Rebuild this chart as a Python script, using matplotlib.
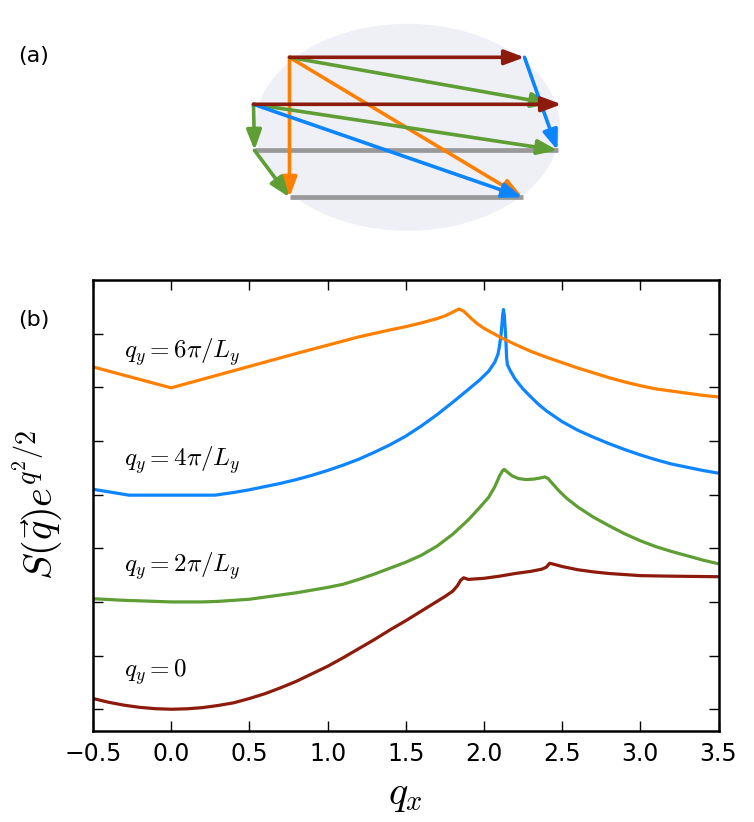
import matplotlib
matplotlib.use("Agg")
import matplotlib.pyplot as plt
from matplotlib.patches import Ellipse

plt.rcParams["mathtext.fontset"] = "cm"
plt.rcParams["font.family"] = ["DejaVu Sans"]

# ---- panel (b) data: S(q) e^{q^2/2} (arbitrary units, offset curves)
qx_0 = [-0.5, -0.4, -0.3, -0.2, -0.1, 0.0, 0.1, 0.2, 0.3, 0.4, 0.5, 0.6, 0.7, 0.8,
        0.9, 1.0, 1.1, 1.2, 1.3, 1.4, 1.5, 1.6, 1.7, 1.75, 1.80, 1.83, 1.85, 1.87,
        1.90, 2.0, 2.1, 2.2, 2.3, 2.37, 2.40, 2.42, 2.45, 2.5, 2.6, 2.7, 2.8, 2.9,
        3.0, 3.2, 3.5]
s_0 = [0.20, 0.13, 0.075, 0.035, 0.01, 0.0, 0.008, 0.03, 0.07, 0.12, 0.20, 0.29,
       0.40, 0.52, 0.66, 0.80, 0.96, 1.13, 1.30, 1.48, 1.65, 1.83, 2.01, 2.10, 2.20,
       2.30, 2.40, 2.45, 2.42, 2.44, 2.48, 2.53, 2.57, 2.61, 2.65, 2.72, 2.70, 2.66,
       2.60, 2.56, 2.53, 2.51, 2.49, 2.48, 2.47]

qx_2 = [-0.5, -0.3, -0.1, 0.0, 0.2, 0.3, 0.4, 0.5, 0.6, 0.7, 0.8, 0.9, 1.0, 1.1,
        1.2, 1.3, 1.4, 1.5, 1.6, 1.7, 1.8, 1.9, 1.97, 2.03, 2.07, 2.10, 2.12, 2.13,
        2.15, 2.18, 2.22, 2.27, 2.32, 2.36, 2.39, 2.41, 2.44, 2.48, 2.53, 2.6, 2.7,
        2.8, 2.9, 3.0, 3.1, 3.2, 3.3, 3.4, 3.5]
s_2 = [2.06, 2.03, 2.01, 2.0, 2.0, 2.01, 2.03, 2.05, 2.09, 2.13, 2.17, 2.22, 2.27,
       2.33, 2.42, 2.52, 2.63, 2.74, 2.87, 3.04, 3.26, 3.53, 3.75, 3.95, 4.15, 4.35,
       4.45, 4.47, 4.42, 4.35, 4.30, 4.28, 4.29, 4.31, 4.33, 4.30, 4.20, 4.07, 3.93,
       3.77, 3.58, 3.42, 3.27, 3.14, 3.03, 2.94, 2.86, 2.78, 2.71]

qx_4 = [-0.5, -0.27, 0.28, 0.4, 0.5, 0.6, 0.7, 0.8, 0.9, 1.0, 1.1, 1.2, 1.3, 1.4,
        1.5, 1.6, 1.7, 1.8, 1.9, 1.97, 2.03, 2.07, 2.09, 2.10, 2.11, 2.12, 2.125,
        2.13, 2.14, 2.145, 2.15, 2.17, 2.2, 2.25, 2.3, 2.35, 2.4, 2.5, 2.6, 2.7, 2.8,
        2.9, 3.0, 3.1, 3.2, 3.3, 3.4, 3.5]
s_4 = [4.10, 3.99, 3.99, 4.04, 4.09, 4.15, 4.21, 4.28, 4.36, 4.45, 4.55, 4.66, 4.79,
       4.93, 5.09, 5.28, 5.49, 5.72, 5.96, 6.13, 6.30, 6.47, 6.62, 6.78, 7.00, 7.35,
       7.45, 7.35, 6.90, 6.55, 6.42, 6.30, 6.15, 5.97, 5.82, 5.68, 5.56, 5.36, 5.20,
       5.07, 4.95, 4.84, 4.74, 4.65, 4.57, 4.51, 4.45, 4.40]

qx_6 = [-0.5, -0.25, 0.0, 0.4, 0.8, 1.2, 1.4, 1.5, 1.6, 1.7, 1.75, 1.80, 1.84, 1.87,
        1.92, 1.96, 2.0, 2.05, 2.1, 2.2, 2.3, 2.4, 2.5, 2.6, 2.7, 2.8, 2.9, 3.0, 3.1,
        3.2, 3.3, 3.4, 3.5]
s_6 = [6.38, 6.185, 5.99, 6.31, 6.63, 6.94, 7.07, 7.13, 7.20, 7.28, 7.33, 7.40, 7.46,
       7.42, 7.28, 7.18, 7.10, 7.02, 6.94, 6.80, 6.67, 6.56, 6.46, 6.36, 6.27, 6.18,
       6.10, 6.03, 5.97, 5.93, 5.89, 5.85, 5.82]

curve_labels = [r"$q_y = 0$", r"$q_y = 2\pi/L_y$", r"$q_y = 4\pi/L_y$", r"$q_y = 6\pi/L_y$"]
label_y = [0.70, 2.66, 4.64, 6.66]
colors = ["#8c1b0c", "#5e9e35", "#0d85ff", "#ff8000"]

# ---- panel (a) data: schematic points (rows of the lattice)
pts = {
    "A1": (-1.18, 0.70), "A2": (1.17, 0.70),
    "B1": (-1.54, 0.23), "B2": (1.54, 0.23), "B2g": (1.44, 0.235),
    "C1": (-1.53, -0.23), "C2": (1.50, -0.23),
    "D1": (-1.18, -0.70), "D2": (1.15, -0.70),
}
grey_rows = [("C1", "C2"), ("D1", "D2")]
# drawn in this order, later ones on top
arrows = [
    ("A1", "D1", "#ff8000"), ("A1", "D2", "#ff8000"),
    ("A1", "B2g", "#5e9e35"), ("B1", "C2", "#5e9e35"),
    ("B1", "C1", "#5e9e35"), ("C1", "D1", "#5e9e35"),
    ("A2", "C2", "#0d85ff"), ("B1", "D2", "#0d85ff"),
    ("A1", "A2", "#8c1b0c"), ("B1", "B2", "#8c1b0c"),
]

fig = plt.figure(figsize=(7.54, 8.22), dpi=100)

# ---- panel (a)
ax_a = fig.add_axes([240 / 754, 1 - 240 / 822, 335 / 754, 225 / 822])
ax_a.set_xlim(-1.675, 1.675)
ax_a.set_ylim(-1.127, 1.123)
ax_a.axis("off")
ax_a.add_patch(Ellipse((0, 0), 3.05, 2.07, facecolor="#eef0f6", edgecolor="none"))
for a, b in grey_rows:
    ax_a.plot([pts[a][0], pts[b][0]], [pts[a][1], pts[b][1]], color="#999999",
              lw=3.4, solid_capstyle="butt", zorder=2)
for i, (a, b, c) in enumerate(arrows):
    ax_a.annotate("", xy=pts[b], xytext=pts[a],
                  arrowprops=dict(arrowstyle="-|>,head_length=1.2,head_width=0.45",
                                  color=c, lw=2.6, shrinkA=0, shrinkB=0),
                  zorder=3 + i * 0.01)

# ---- panel (b)
ax = fig.add_axes([93 / 754, 1 - 730.7 / 822, 625.5 / 754, 450.7 / 822])
for qx, s, c in zip([qx_0, qx_2, qx_4, qx_6], [s_0, s_2, s_4, s_6], colors):
    ax.plot(qx, s, color=c, lw=2.3)
for lab, y in zip(curve_labels, label_y):
    ax.text(-0.3, y, lab, fontsize=18, va="center", ha="left")

ax.set_xlim(-0.5, 3.5)
ax.set_ylim(-0.4, 8.0)
ax.set_xticks([-0.5, 0.0, 0.5, 1.0, 1.5, 2.0, 2.5, 3.0, 3.5])
ax.set_yticks(range(8))
ax.set_yticklabels([])
ax.tick_params(direction="in", top=True, right=True, length=7, width=1,
               labelsize=17, pad=8)
for sp in ax.spines.values():
    sp.set_linewidth(1.8)
ax.set_xlabel(r"$q_x$", fontsize=29)
ax.set_ylabel(r"$S(\vec{q})e^{q^2/2}$", fontsize=29)
ax.xaxis.set_label_coords(0.5, -0.095)
ax.yaxis.set_label_coords(-0.045, 0.5)

fig.text(18 / 754, 1 - 56 / 822, "(a)", fontsize=16, va="center", ha="left")
fig.text(18 / 754, 1 - 320 / 822, "(b)", fontsize=16, va="center", ha="left")

fig.savefig("out.png", dpi=100)
